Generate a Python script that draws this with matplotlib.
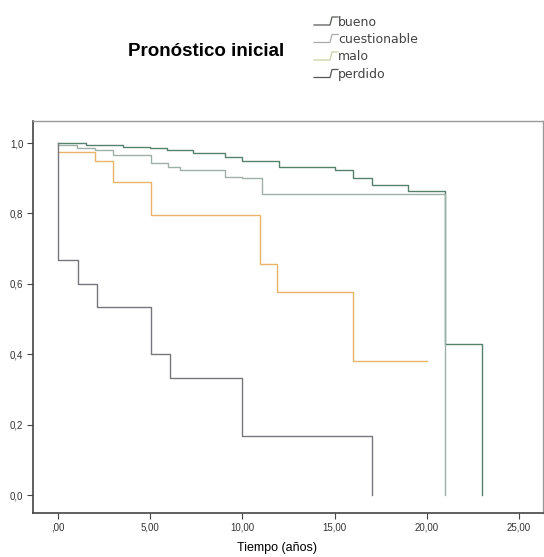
import matplotlib
matplotlib.use("Agg")
import matplotlib.pyplot as plt
from matplotlib.lines import Line2D

plt.rcParams['font.family'] = ['Liberation Sans', 'DejaVu Sans']

# Kaplan-Meier steps (time in years, survival)
bueno_t = [0, 1.5, 3.5, 5.0, 5.9, 7.3, 9.06, 10.0, 12.0, 15.0, 16.0, 17.0, 19.0, 21.0, 23.0]
bueno_s = [1.0, 0.995, 0.99, 0.987, 0.98, 0.971, 0.961, 0.949, 0.931, 0.923, 0.90, 0.881, 0.864, 0.43, 0.0]

cuest_t = [0, 1.0, 2.0, 3.0, 5.04, 5.96, 6.6, 9.06, 10.0, 11.04, 21.0]
cuest_s = [0.994, 0.987, 0.98, 0.966, 0.944, 0.933, 0.923, 0.904, 0.90, 0.854, 0.0]

malo_t = [0, 2.0, 3.0, 5.04, 10.95, 11.9, 16.0, 20.0]
malo_s = [0.975, 0.95, 0.888, 0.795, 0.656, 0.578, 0.38, 0.38]

perdido_t = [0, 0, 1.07, 2.1, 5.04, 6.07, 10.0, 17.0]
perdido_s = [1.0, 0.667, 0.60, 0.533, 0.40, 0.333, 0.167, 0.0]

group_labels = ["bueno", "cuestionable", "malo", "perdido"]
group_colors = ["#56816c", "#9fb0a6", "#e8b468", "#77767c"]
legend_colors = ["#555a55", "#a8aaa8", "#c8d0a0", "#555555"]

x_ticks = [0, 5, 10, 15, 20, 25]
x_ticklabels = [",00", "5,00", "10,00", "15,00", "20,00", "25,00"]
y_ticks = [0.0, 0.2, 0.4, 0.6, 0.8, 1.0]
y_ticklabels = ["0,0", "0,2", "0,4", "0,6", "0,8", "1,0"]

fig = plt.figure(figsize=(5.44, 5.57), dpi=100)
W, H = 544, 557
ax = fig.add_axes([33 / W, 1 - 513 / H, 510 / W, 392 / H])

series = [(bueno_t, bueno_s), (cuest_t, cuest_s), (malo_t, malo_s), (perdido_t, perdido_s)]
for (t, s), c in zip(series, group_colors):
    ax.step(t, s, where='post', color=c, linewidth=1.0)

ax.set_xlim(-1.36, 26.3)
ax.set_ylim(-0.051, 1.0625)
ax.set_xticks(x_ticks)
ax.set_xticklabels(x_ticklabels, fontsize=7, color='#333333')
ax.set_yticks(y_ticks)
ax.set_yticklabels(y_ticklabels, fontsize=7, color='#333333')
ax.tick_params(direction='out', length=4, width=0.8, color='#444444', pad=3)

for side in ['left', 'bottom']:
    ax.spines[side].set_color('#444444')
    ax.spines[side].set_linewidth(1.2)
for side in ['top', 'right']:
    ax.spines[side].set_color('#999999')
    ax.spines[side].set_linewidth(1.0)

ax.set_xlabel("Tiempo (años)", fontsize=9)
ax.xaxis.set_label_coords(0.478, -0.075)

# title and hand-drawn legend, SPSS style
fig.text(128 / W, 1 - 52 / H, "Pronóstico inicial", fontsize=13.5, fontweight='bold',
         ha='left', va='center')

for i, (lab, c) in enumerate(zip(group_labels, legend_colors)):
    yc = 22 + i * 17.5
    xs = [314, 330, 332, 338]
    ys = [yc + 3, yc + 3, yc - 5, yc - 5]
    fig.add_artist(Line2D([x / W for x in [xs[0], xs[1], xs[1], xs[2], xs[3]]],
                          [1 - y / H for y in [ys[0], ys[1], ys[1], ys[2], ys[3]]],
                          color=c, linewidth=0.9))
    fig.text(338 / W, 1 - yc / H, lab, fontsize=9, ha='left', va='center',
             color='#444444', family='DejaVu Sans')

fig.savefig("out.png", dpi=100)
